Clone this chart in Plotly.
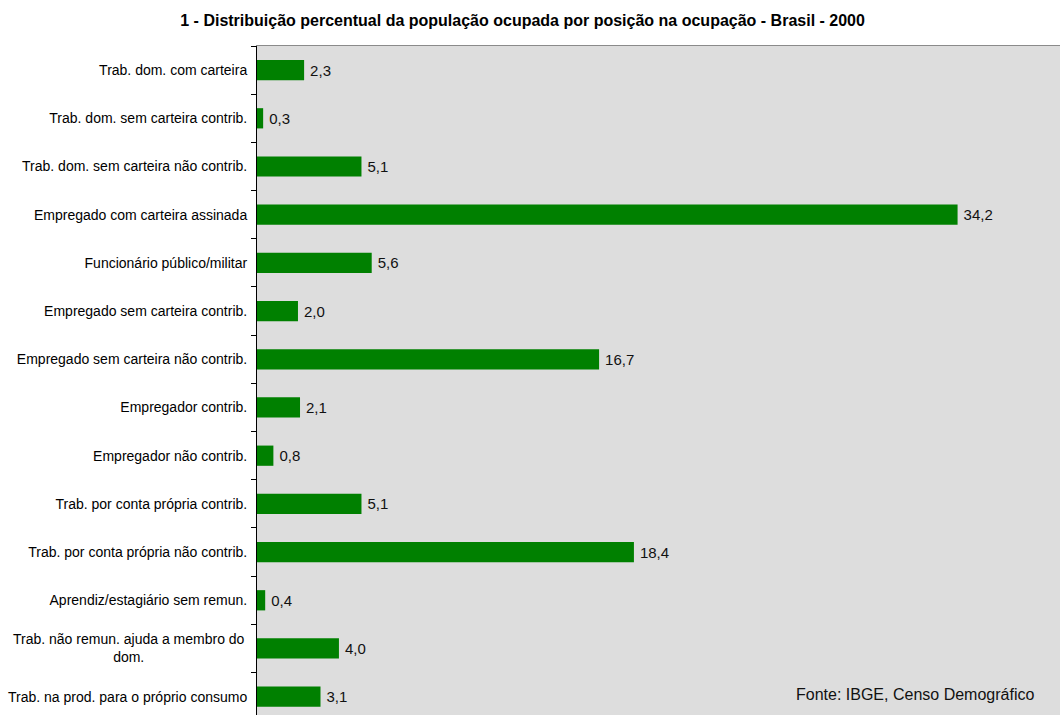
import plotly.graph_objects as go

categorias = [
    "Trab. dom. com carteira",
    "Trab. dom. sem carteira contrib.",
    "Trab. dom. sem carteira não contrib.",
    "Empregado com carteira assinada",
    "Funcionário público/militar",
    "Empregado sem carteira contrib.",
    "Empregado sem carteira não contrib.",
    "Empregador contrib.",
    "Empregador não contrib.",
    "Trab. por conta própria contrib.",
    "Trab. por conta própria não contrib.",
    "Aprendiz/estagiário sem remun.",
    "Trab. não remun. ajuda a membro do<br>dom.",
    "Trab. na prod. para o próprio consumo",
]
percentuais = [2.3, 0.3, 5.1, 34.2, 5.6, 2.0, 16.7, 2.1, 0.8, 5.1, 18.4, 0.4, 4.0, 3.1]

rotulos = ["\u2009" + f"{v:.1f}".replace(".", ",") for v in percentuais]

fonte = "Liberation Sans, Arial"

# multi-line labels are drawn as centred annotations; single-line ones as tick text
texto_ticks = ["" if "<br>" in c else c for c in categorias]
rotulos_multilinha = [c for c in categorias if "<br>" in c]

fig = go.Figure(
    go.Bar(
        x=percentuais,
        y=categorias,
        orientation="h",
        marker=dict(color="#008000", line=dict(width=0)),
        width=0.42,
        text=rotulos,
        textposition="outside",
        cliponaxis=False,
        textfont=dict(family=fonte, size=15, color="#111111"),
    )
)

anotacoes = [
    dict(
        text=c,
        xref="paper",
        yref="y",
        x=0,
        y=c,
        xshift=-10,
        xanchor="right",
        yanchor="middle",
        align="center",
        showarrow=False,
        font=dict(family=fonte, size=14, color="#000000"),
    )
    for c in rotulos_multilinha
]
anotacoes.append(
    dict(
        text="Fonte: IBGE, Censo Demográfico",
        xref="paper",
        yref="paper",
        x=0.97,
        y=0.03,
        xanchor="right",
        yanchor="middle",
        showarrow=False,
        font=dict(family=fonte, size=16, color="#111111"),
    )
)

fig.update_layout(
    width=1060,
    height=715,
    margin=dict(l=257, r=0, t=46, b=0),
    paper_bgcolor="white",
    plot_bgcolor="#dddddd",
    showlegend=False,
    title=dict(
        text="<b>1 - Distribuição percentual da população ocupada por posição na ocupação - Brasil - 2000</b>",
        x=0.493,
        xanchor="center",
        y=0.972,
        yanchor="middle",
        font=dict(family=fonte, size=16, color="#000000"),
    ),
    xaxis=dict(
        range=[0, 39.2],
        side="top",
        showgrid=False,
        zeroline=False,
        showticklabels=False,
        ticks="",
        showline=True,
        linecolor="#8a8a8a",
        linewidth=1,
    ),
    yaxis=dict(
        type="category",
        range=[13.38, -0.5],
        tickson="boundaries",
        tickmode="array",
        tickvals=categorias,
        ticktext=texto_ticks,
        ticks="outside",
        ticklen=5,
        tickcolor="#000000",
        showline=True,
        linecolor="#000000",
        linewidth=1,
        showgrid=False,
        ticklabelstandoff=6,
        tickfont=dict(family=fonte, size=14, color="#000000"),
    ),
    annotations=anotacoes,
)

fig.write_html("out.html")
